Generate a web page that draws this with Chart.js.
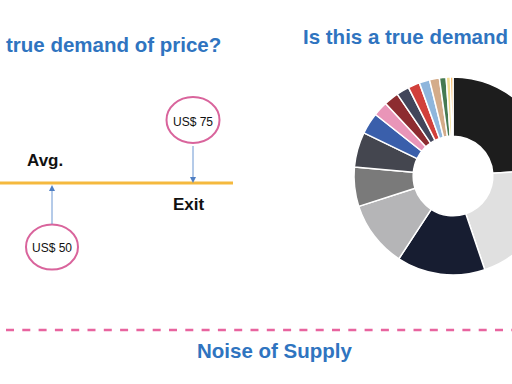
<!DOCTYPE html>
<html>
<head>
<meta charset="utf-8">
<script src="https://cdn.jsdelivr.net/npm/chart.js@4/dist/chart.umd.min.js"></script>
<style>
  html, body { margin: 0; padding: 0; width: 512px; height: 384px; overflow: hidden; background: #fff; }
  #overlay { position: absolute; left: 0; top: 0; }
  #pie { position: absolute; left: 333px; top: 56px; }
</style>
</head>
<body>
<svg id="overlay" width="512" height="384" xmlns="http://www.w3.org/2000/svg" font-family="Liberation Sans, Arial, sans-serif">
  <text x="6" y="52" font-size="20.5" font-weight="bold" fill="#2f74c0">true demand of price?</text>
  <text x="303" y="44" font-size="20.5" font-weight="bold" fill="#2f74c0">Is this a true demand</text>

  <!-- average line and price bubbles -->
  <line x1="0" y1="183" x2="233" y2="183" stroke="#f5b93e" stroke-width="3"/>
  <text x="27" y="166" font-size="17" font-weight="bold" fill="#111">Avg.</text>
  <text x="173" y="210" font-size="17" font-weight="bold" fill="#111">Exit</text>

  <ellipse cx="193" cy="120" rx="26.5" ry="23" fill="#fff" stroke="#d9649c" stroke-width="2"/>
  <text x="193" y="126" font-size="12" text-anchor="middle" fill="#111">US$ 75</text>
  <line x1="193" y1="146" x2="193" y2="178" stroke="#6b96d2" stroke-width="1"/>
  <polygon points="190,177 196,177 193,183" fill="#4f7fc4"/>

  <ellipse cx="52" cy="247" rx="26" ry="22.5" fill="#fff" stroke="#d9649c" stroke-width="2"/>
  <text x="52" y="252" font-size="12" text-anchor="middle" fill="#111">US$ 50</text>
  <line x1="52" y1="224" x2="52" y2="191" stroke="#6b96d2" stroke-width="1"/>
  <polygon points="49,191 55,191 52,185" fill="#4f7fc4"/>

  <!-- supply divider -->
  <line x1="6" y1="330" x2="512" y2="330" stroke="#e8649f" stroke-width="2.5" stroke-dasharray="8 8.3"/>
  <text x="197" y="358" font-size="20.5" font-weight="bold" fill="#2f74c0">Noise of Supply</text>
</svg>
<canvas id="pie" width="240" height="240"></canvas>
<script>
const labels = ['A', 'B', 'C', 'D', 'E', 'F', 'G', 'H', 'I', 'J', 'K', 'L', 'M', 'N', 'O', 'P'];
const shares = [23.9, 20.8, 14.4, 10.8, 6.4, 5.7, 3.5, 2.4, 2.4, 2.1, 1.9, 1.7, 1.6, 1.1, 0.7, 0.4];
const colors = ['#1d1d1d', '#e0e0e0', '#171d31', '#b5b5b7', '#7a7a7a', '#44464f', '#3a5fab',
                '#e995b8', '#8d2c30', '#42465b', '#d1403b', '#8fb6dc', '#d4ac8a', '#467a52', '#f2dc90', '#f0a132'];

new Chart(document.getElementById('pie'), {
    type: 'doughnut',
    data: {
        labels: labels,
        datasets: [{
            data: shares,
            backgroundColor: colors,
            borderColor: '#fff',
            borderWidth: 1.5
        }]
    },
    options: {
        responsive: false,
        animation: false,
        radius: 99,
        cutout: 48,
        layout: { padding: 0 },
        plugins: {
            legend: { display: false },
            tooltip: { enabled: false }
        }
    }
});
</script>
</body>
</html>
